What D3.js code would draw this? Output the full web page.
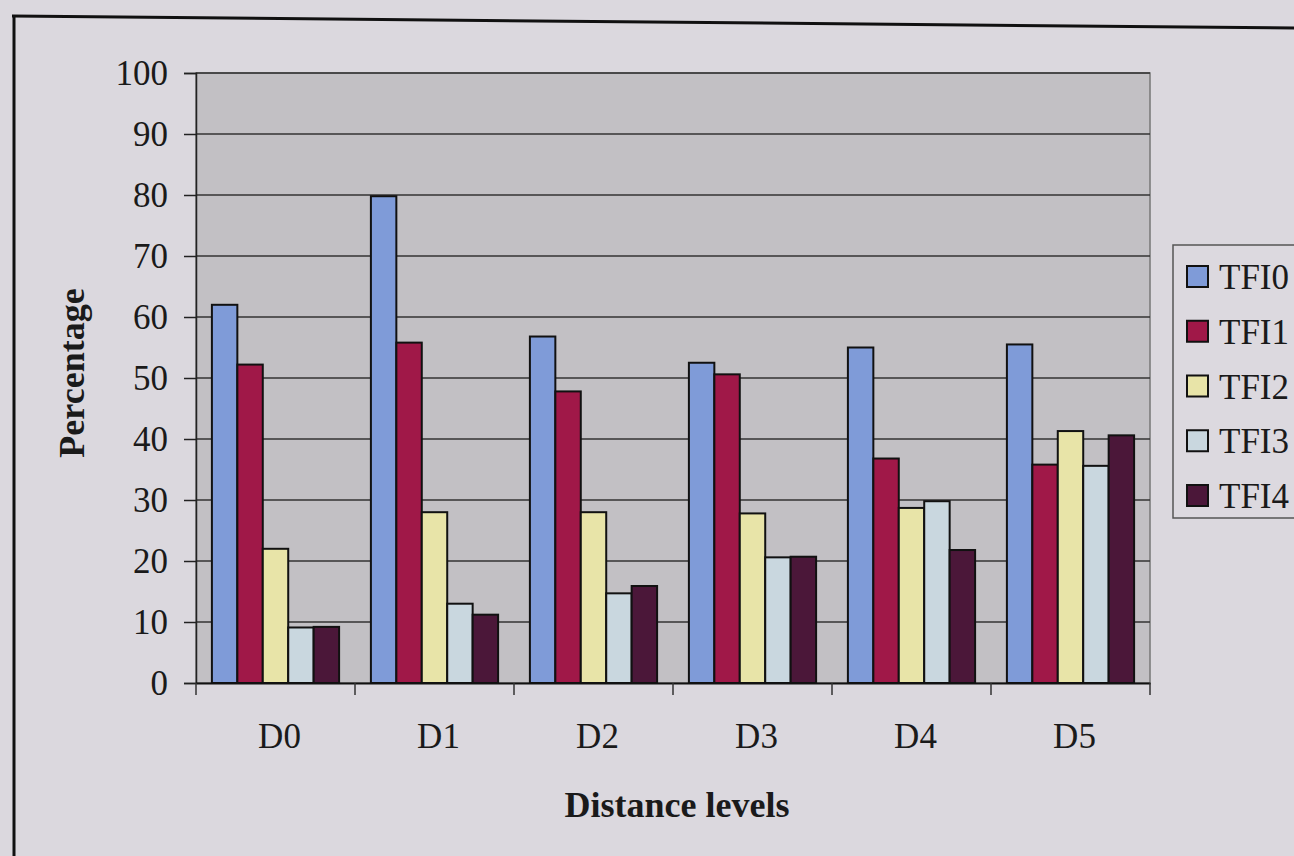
<!DOCTYPE html>
<html>
<head>
<meta charset="utf-8">
<script src="https://cdn.jsdelivr.net/npm/d3@7/dist/d3.min.js"></script>
<style>
html,body{margin:0;padding:0;background:#dbd8de;}
svg{display:block;}
text{font-family:"Liberation Serif","Times New Roman",serif;fill:#1a1a1a;}
</style>
</head>
<body>
<svg id="chart" width="1294" height="856"></svg>
<script>
const categories = ["D0","D1","D2","D3","D4","D5"];
const seriesNames = ["TFI0","TFI1","TFI2","TFI3","TFI4"];
const TFI0 = [62, 79.8, 56.8, 52.5, 55, 55.5];
const TFI1 = [52.2, 55.8, 47.8, 50.6, 36.8, 35.8];
const TFI2 = [22, 28, 28, 27.8, 28.7, 41.3];
const TFI3 = [9.1, 13, 14.7, 20.6, 29.8, 35.6];
const TFI4 = [9.2, 11.2, 15.9, 20.7, 21.8, 40.6];
const yTicks = [0,10,20,30,40,50,60,70,80,90,100];
const colors = ["#7f9bd8","#a01848","#e8e4a8","#c9d7df","#4b1739"];

const seriesValues = [TFI0, TFI1, TFI2, TFI3, TFI4];
const svg = d3.select("#chart");

// outer frame lines
svg.append("line").attr("x1",12).attr("y1",16).attr("x2",1294).attr("y2",28)
  .attr("stroke","#111").attr("stroke-width",3);
svg.append("line").attr("x1",14).attr("y1",16).attr("x2",14).attr("y2",856)
  .attr("stroke","#111").attr("stroke-width",3);

const L = 196, R = 1150, T = 73, B = 683;
const x0 = d3.scaleBand().domain(categories).range([L,R]).paddingInner(0.2).paddingOuter(0.1);
const x1 = d3.scaleBand().domain(seriesNames).range([0,x0.bandwidth()]);
const y = d3.scaleLinear().domain([0,100]).range([B,T]);

// plot background
svg.append("rect").attr("x",L).attr("y",T).attr("width",R-L).attr("height",B-T)
  .attr("fill","#c2c0c4").attr("stroke","#777").attr("stroke-width",1.5);

// gridlines
svg.append("g").selectAll("line").data(yTicks.filter(d=>d>0)).join("line")
  .attr("x1",L).attr("x2",R).attr("y1",d=>y(d)).attr("y2",d=>y(d))
  .attr("stroke","#333").attr("stroke-width",1.5);

// y axis
const yAxis = svg.append("g").attr("transform",`translate(${L},0)`)
  .call(d3.axisLeft(y).tickValues(yTicks).tickSize(12).tickPadding(16));
yAxis.select(".domain").attr("stroke","#222").attr("stroke-width",1.5);
yAxis.selectAll(".tick line").attr("stroke","#222").attr("stroke-width",1.5);
yAxis.selectAll("text").attr("font-size",35).attr("font-family","Liberation Serif").attr("fill","#1a1a1a");

// x axis
const xAxis = svg.append("g").attr("transform",`translate(0,${B})`)
  .call(d3.axisBottom(x0).tickSize(0).tickPadding(40));
xAxis.select(".domain").attr("stroke","#111").attr("stroke-width",2);
xAxis.selectAll("text").attr("font-size",35).attr("font-family","Liberation Serif").attr("fill","#1a1a1a")
  .attr("dx",4);
// category boundary ticks
const step = x0.step();
const bounds = d3.range(categories.length+1).map(i=>L+i*(R-L)/categories.length);
svg.append("g").selectAll("line").data(bounds).join("line")
  .attr("x1",d=>d).attr("x2",d=>d).attr("y1",B).attr("y2",B+12)
  .attr("stroke","#333").attr("stroke-width",1.5);

// bars
const groups = svg.append("g").selectAll("g").data(categories).join("g")
  .attr("transform",d=>`translate(${x0(d)},0)`);
groups.selectAll("rect").data((c,ci)=>seriesNames.map((s,si)=>({s,si,v:seriesValues[si][ci]}))).join("rect")
  .attr("x",d=>x1(d.s)).attr("width",x1.bandwidth())
  .attr("y",d=>y(d.v)).attr("height",d=>B-y(d.v))
  .attr("fill",d=>colors[d.si]).attr("stroke","#111").attr("stroke-width",2);

// axis titles
svg.append("text").attr("x",677).attr("y",817).attr("text-anchor","middle")
  .attr("font-size",36).attr("font-weight","bold").text("Distance levels");
svg.append("text").attr("transform","translate(84,373) rotate(-90)").attr("text-anchor","middle")
  .attr("font-size",36).attr("font-weight","bold").text("Percentage");

// legend
const lg = svg.append("g");
lg.append("rect").attr("x",1173).attr("y",245).attr("width",140).attr("height",273)
  .attr("fill","#dcd9df").attr("stroke","#555").attr("stroke-width",1.5);
const rowY = d3.scalePoint().domain(seriesNames).range([277,496]);
const items = lg.selectAll("g").data(seriesNames).join("g")
  .attr("transform",d=>`translate(0,${rowY(d)})`);
items.append("rect").attr("x",1187).attr("y",-11).attr("width",21).attr("height",21)
  .attr("fill",(d,i)=>colors[i]).attr("stroke","#111").attr("stroke-width",2);
items.append("text").attr("x",1219).attr("y",12).attr("font-size",35).text(d=>d);
</script>
</body>
</html>
